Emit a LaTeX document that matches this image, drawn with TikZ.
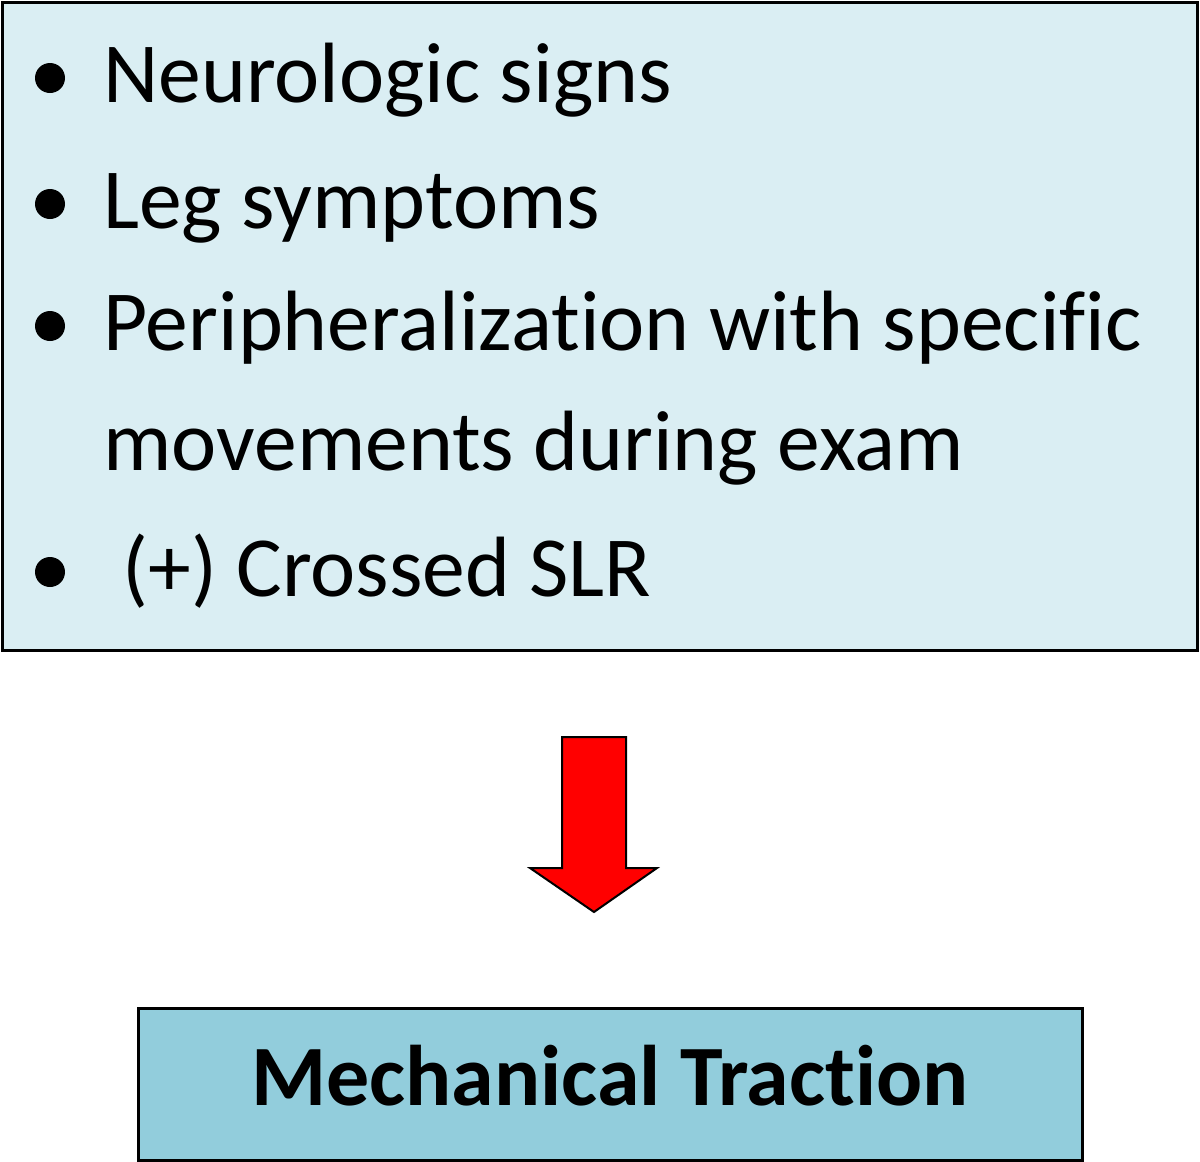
\documentclass[tikz,border=0pt]{standalone}
\usepackage{fontspec}
\setmainfont[Ligatures=NoCommon]{Carlito}

\definecolor{paleblue}{HTML}{DAEEF3}
\definecolor{deepblue}{HTML}{92CDDC}

\begin{document}
\begin{tikzpicture}[x=0.5pt, y=-0.5pt]
  \useasboundingbox (0,0) rectangle (1200,1162);

  % findings box
  \node (signs) [draw, line width=1.5pt, fill=paleblue, minimum width=597.5pt,
    minimum height=324pt, inner sep=0pt] at (599.5,326) {};

  % bullets
  \foreach \y in {78, 204, 326, 572} {
    \fill (50,\y) circle [radius=15];
  }

  % bullet texts
  \foreach \y/\txt in {102/Neurologic signs, 228/Leg symptoms,
      350/Peripheralization with specific, 470/movements during exam,
      596/\ (+) Crossed SLR} {
    \node[anchor=base west, inner sep=0pt, font=\fontsize{42.8}{50}\selectfont]
      at (103,\y) {\txt};
  }

  % block arrow
  \coordinate (arrowtop) at (594,737);
  \draw[line width=1pt, fill=red, line join=miter]
    (arrowtop) ++(-32,0) -- ++(64,0) -- ++(0,131) -- ++(31,0)
    -- ++(-63,44) -- ++(-64,-44) -- ++(32,0) -- cycle;

  % treatment box
  \node (traction) [draw, line width=1.5pt, fill=deepblue, minimum width=472pt,
    minimum height=76pt, inner sep=0pt, text height=30pt, text depth=9pt,
    font=\fontsize{43}{50}\bfseries]
    at (610,1084) {Mechanical Traction};
\end{tikzpicture}
\end{document}
